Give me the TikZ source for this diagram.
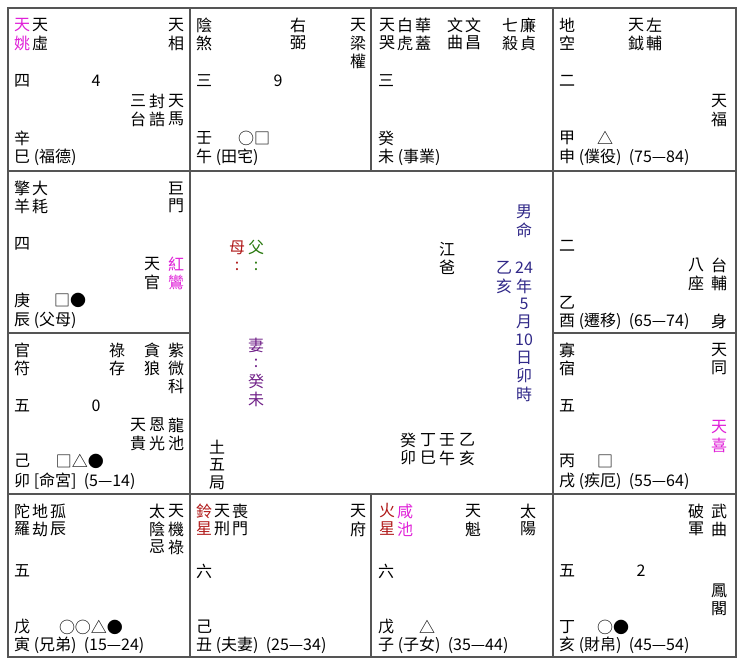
\documentclass[tikz,border=0pt]{standalone}
\usepackage{fontspec}
\setmainfont{Noto Sans CJK TC}
\definecolor{mg}{HTML}{E020D8}
\definecolor{dr}{HTML}{B01818}
\definecolor{gr}{HTML}{2A7A10}
\definecolor{pu}{HTML}{702088}
\definecolor{nv}{HTML}{302888}
\definecolor{ln}{HTML}{555555}
\newcommand\vcol[4][black]{\foreach \c [count=\i from 0] in {#4}{\node[ch,text=#1] at (#2,#3+18*\i) {\c};}}
\newcommand\hrow[3]{\node[ch,anchor=west] at (#1,#2) {#3};}
\begin{document}
\begin{tikzpicture}[x=1pt,y=-1pt,ch/.style={inner sep=0pt,font=\fontsize{16}{18}\selectfont}]
\useasboundingbox (0,0) rectangle (740,666);
\fill[white] (0,0) rectangle (740,666);
\draw[ln,line width=1.1pt] (8,8) rectangle (736,657);
\draw[ln,line width=1.1pt] (8,171)--(190,171) (553,171)--(736,171)
  (8,333)--(190,333) (553,333)--(736,333)
  (8,494)--(736,494) (190,8)--(190,657) (553,8)--(553,657)
  (371,8)--(371,171) (371,494)--(371,657) (190,171)--(553,171);
% top row cell 1
\vcol[mg]{22}{25}{天,姚}\vcol{40}{25}{天,虛}\vcol{176}{25}{天,相}
\hrow{14}{81}{四}\node[ch] at (96,81){4};
\vcol{138}{101}{三,台}\vcol{157}{101}{封,誥}\vcol{176}{101}{天,馬}
\hrow{14}{138}{辛}\hrow{14}{157}{巳 (福德)}
% cell 2
\vcol{204}{25}{陰,煞}\vcol{298}{25}{右,弼}\vcol{358}{25}{天,梁,權}
\hrow{196}{81}{三}\node[ch] at (278,81){9};
\hrow{196}{138}{壬}\node[ch] at (254,138){○□};
\hrow{196}{157}{午 (田宅)}
% cell 3
\vcol{387}{25}{天,哭}\vcol{405}{25}{白,虎}\vcol{423}{25}{華,蓋}
\vcol{455}{25}{文,曲}\vcol{473}{25}{文,昌}\vcol{510}{25}{七,殺}\vcol{528}{25}{廉,貞}
\hrow{378}{81}{三}\hrow{378}{138}{癸}\hrow{378}{157}{未 (事業)}
% cell 4
\vcol{567}{25}{地,空}\vcol{636}{25}{天,鉞}\vcol{654}{25}{左,輔}
\hrow{559}{81}{二}\vcol{719}{101}{天,福}
\hrow{559}{138}{甲}\node[ch] at (605,138){△};
\hrow{559}{157}{申 (僕役)\ \ (75—84)}
% row 2 left
\vcol{22}{188}{擎,羊}\vcol{40}{188}{大,耗}\vcol{176}{188}{巨,門}
\hrow{14}{244}{四}\vcol{152}{264}{天,官}\vcol[mg]{176}{264}{紅,鸞}
\hrow{14}{300}{庚}\node[ch] at (70,300){□●};
\hrow{14}{320}{辰 (父母)}
% row 3 left
\vcol{22}{350}{官,符}\vcol{117}{350}{祿,存}\vcol{152}{350}{貪,狼}\vcol{176}{350}{紫,微,科}
\hrow{14}{406}{五}\node[ch] at (96,406){0};
\vcol{138}{425}{天,貴}\vcol{157}{425}{恩,光}\vcol{176}{425}{龍,池}
\hrow{14}{461}{己}\node[ch] at (80,461){□△●};
\hrow{14}{481}{卯 [命宮]\ \ (5—14)}
% row 2 right
\hrow{559}{246}{二}\vcol{696}{265}{八,座}\vcol{719}{265}{台,輔}
\hrow{559}{303}{乙}\hrow{559}{321}{酉 (遷移)\ \ (65—74)}\node[ch] at (719,321){身};
% row 3 right
\vcol{567}{350}{寡,宿}\vcol{719}{350}{天,同}
\hrow{559}{406}{五}\vcol[mg]{719}{427}{天,喜}
\hrow{559}{461}{丙}\node[ch] at (605,461){□};
\hrow{559}{481}{戌 (疾厄)\ \ (55—64)}
% centre
\vcol[dr]{237}{248}{母,:}\vcol[gr]{256}{248}{父,:}
\vcol[pu]{256}{345}{妻,:,癸,未}
\vcol{217}{447}{土,五,局}
\vcol{447}{249}{江,爸}
\vcol[nv]{504}{268}{乙,亥}
\vcol[nv]{524}{212}{男,命}
\vcol[nv]{524}{268}{24,年,5,月,10,日,卯,時}
\vcol{408}{440}{癸,卯}\vcol{428}{440}{丁,巳}\vcol{447}{440}{壬,午}\vcol{467}{440}{乙,亥}
% bottom row
\vcol{22}{511}{陀,羅}\vcol{40}{511}{地,劫}\vcol{58}{511}{孤,辰}
\vcol{157}{511}{太,陰,忌}\vcol{176}{511}{天,機,祿}
\hrow{14}{571}{五}\hrow{14}{627}{戊}\node[ch] at (91,627){○○△●};
\hrow{14}{645}{寅 (兄弟)\ \ (15—24)}
\vcol[dr]{204}{511}{鈴,星}\vcol{222}{511}{天,刑}\vcol{240}{511}{喪,門}\vcol{358}{511}{天,府}
\hrow{196}{571}{六}\hrow{196}{627}{己}\hrow{196}{645}{丑 (夫妻)\ \ (25—34)}
\vcol[dr]{387}{511}{火,星}\vcol[mg]{405}{511}{咸,池}\vcol{473}{511}{天,魁}\vcol{528}{511}{太,陽}
\hrow{378}{571}{六}\hrow{378}{627}{戊}\node[ch] at (427,627){△};
\hrow{378}{645}{子 (子女)\ \ (35—44)}
\vcol{696}{511}{破,軍}\vcol{719}{511}{武,曲}
\hrow{559}{571}{五}\node[ch] at (641,571){2};
\vcol{719}{591}{鳳,閣}
\hrow{559}{627}{丁}\node[ch] at (613,627){○●};
\hrow{559}{645}{亥 (財帛)\ \ (45—54)}
\end{tikzpicture}
\end{document}
